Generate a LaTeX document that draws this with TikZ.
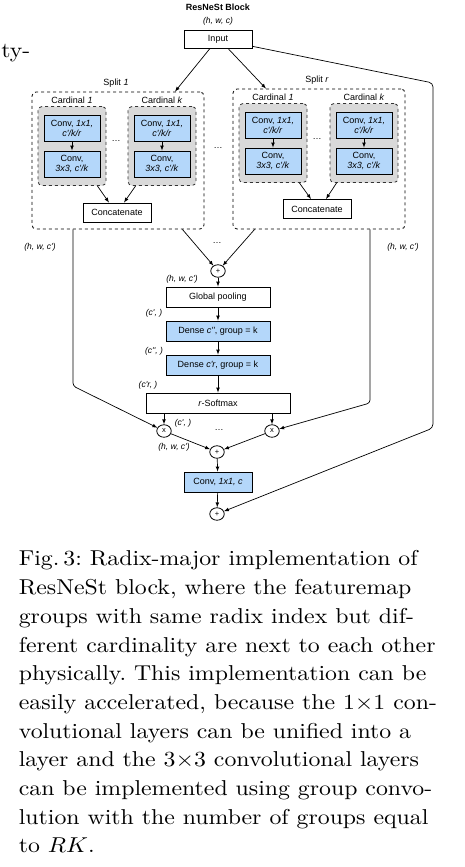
\documentclass[tikz,border=0pt]{standalone}
\usepackage{fontspec}
\newfontfamily\diagfont{Liberation Sans}
\usetikzlibrary{arrows, shapes.geometric}
\definecolor{convblue}{RGB}{180,215,250}
\definecolor{cardgray}{RGB}{217,217,217}
\newcommand{\capline}[1]{\hbox to\hsize{#1}}

\begin{document}
\begin{tikzpicture}[x=1pt, y=-1pt, >=latex, line width=0.7pt,
		font=\diagfont\fontsize{9}{10}\selectfont,
		box/.style={draw, line width=0.9pt, fill=white, minimum width=#1, minimum height=20, inner sep=0pt},
		box/.default=68,
		convbox/.style={box=56, minimum height=26, fill=convblue, align=center},
		densebox/.style={box=104, fill=convblue},
		cardbox/.style={draw=black!80, dashed, line width=0.8pt, fill=cardgray, rounded corners=4pt, minimum width=68, minimum height=79},
		splitbox/.style={draw, dashed, line width=0.8pt, rounded corners=4pt, minimum width=172},
		op/.style={draw, ellipse, line width=0.8pt, minimum width=14.5, minimum height=12.5, inner sep=0pt, font=\diagfont\fontsize{7.5}{7.5}\selectfont},
		shp/.style={font=\diagfont\itshape\fontsize{8.5}{9}\selectfont},
		capt/.style={inner sep=0pt, xscale=2.38, yscale=2.15, font=\rmfamily\fontsize{10}{13.35}\selectfont}]
		% Bildbereich
		\useasboundingbox (0,0) rectangle (464,867);
		% Rest der Nachbarspalte
		\node[capt, anchor=base west] (prev) at (0.5,57) {ty-};
		% Eingang
		\node[font=\diagfont\bfseries\fontsize{9}{9}\selectfont] (title) at (218,7) {ResNeSt Block};
		\node[shp] (shin) at (218,21) {(h, w, c)};
		\node[box, minimum height=18] (in) at (218,39) {Input};
		% Splits
		\node[splitbox, minimum height=137] (sp1) at (118,160.5) {};
		\node[splitbox, minimum height=140] (spr) at (319,159) {};
		\node (sp1lbl) at (116,83) {Split \textit{1}};
		\node (sprlbl) at (317,80) {Split \textit{r}};
		\draw[->] ([xshift=-8pt]in.south) -- ([xshift=57pt]sp1.north);
		\draw[->] ([xshift=10pt]in.south) -- ([xshift=-53pt]spr.north);
		% Kardinalgruppen
		\foreach \cg/\x/\y/\k in {g11/72/146/1, g1k/162/146/k, gr1/273/143/1, grk/364/143/k} {
			\node (\cg l) at (\x,\y-46) {Cardinal \textit{\k}};
			\node[cardbox] (\cg) at (\x,\y) {};
			\node[convbox] (\cg a) at (\x,\y-18) {Conv, \textit{1x1,}\\\textit{c'/k/r}};
			\node[convbox] (\cg b) at (\x,\y+18) {Conv,\\\textit{3x3, c'/k}};
			\draw[->] (\cg a) -- (\cg b);
		}
		\node[box, minimum height=19] (cat1) at (117,212.5) {Concatenate};
		\node[box, minimum height=19] (catr) at (317,209) {Concatenate};
		\draw[->] ([xshift=-9pt]g11.south east) -- ([xshift=-8pt]cat1.north);
		\draw[->] ([xshift=8pt]g1k.south west) -- ([xshift=7pt]cat1.north);
		\draw[->] ([xshift=-8pt]gr1.south east) -- ([xshift=-6pt]catr.north);
		\draw[->] ([xshift=7pt]grk.south west) -- ([xshift=9pt]catr.north);
		\node (dots1) at (116,141) {\dots};
		\node (dots2) at (317,139) {\dots};
		\node (dots3) at (218,148) {\dots};
		% Summe und Attention
		\node[op] (p1) at (218,271) {+};
		\draw[->] ([xshift=-22pt]sp1.south east) -- (p1);
		\draw[->] ([xshift=22pt]spr.south west) -- (p1);
		\node (dots4) at (217,243) {\dots};
		\node[shp] (shl) at (40,247) {(h, w, c')};
		\node[shp] (shr) at (403,247) {(h, w, c')};
		\node[shp] (shp1) at (182,279) {(h, w, c')};
		\node[box=104] (gp) at (218,297) {Global pooling};
		\node[densebox] (d1) at (218,331) {Dense \textit{c''}, group = k};
		\node[densebox] (d2) at (218,365) {Dense \textit{c'r}, group = k};
		\node[box=144] (sm) at (218,403) {\textit{r}-Softmax};
		\node[shp] (shgp) at (154,313) {(c', )};
		\node[shp] (shd1) at (154,351) {(c'', )};
		\node[shp] (shd2) at (148,385) {(c'r, )};
		\draw[->] (p1) -- (gp);
		\draw[->] (gp) -- (d1);
		\draw[->] (d1) -- (d2);
		\draw[->] (d2) -- (sm);
		% Gewichtung
		\node[op] (xl) at (164,431) {x};
		\node[op] (xr) at (272,431) {x};
		\draw[->] (sm.south -| xl) -- (xl);
		\draw[->] (sm.south -| xr) -- (xr);
		\node[shp] (shx) at (183,423) {(c', )};
		\node (dots5) at (219,430) {\dots};
		\node[op] (p2) at (217,452) {+};
		\node[shp] (shp2) at (174,447) {(h, w, c')};
		\draw[->] (xl) -- (p2);
		\draw[->] (xr) -- (p2);
		\node[box, fill=convblue] (cv) at (218,482) {Conv, \textit{1x1, c}};
		\node[op] (pf) at (217,514) {+};
		\draw[->] (p2) -- (cv);
		\draw[->] (cv) -- (pf);
		% Zweige und Skip
		\coordinate (lbend) at (73,386);
		\coordinate (rbend) at (370,403);
		\coordinate (skipa) at (433,83);
		\coordinate (skipb) at (433,428);
		\draw[->, rounded corners=3pt] (sp1.south -| lbend) -- (lbend) -- (xl);
		\draw[->, rounded corners=3pt] (spr.south -| rbend) -- (rbend) -- (xr);
		\draw[->, rounded corners=4pt] (in.-12) -- (skipa) -- (skipb) -- (pf);
		% Bildunterschrift
		\node[capt, anchor=north west, text width=174pt] (cap) at (18,550) {\frenchspacing
			\capline{Fig.\,3: Radix-major implementation of}
			\capline{ResNeSt block, where the featuremap}
			\capline{groups with same radix index but dif-}
			\capline{ferent cardinality are next to each other}
			\capline{physically. This implementation can be}
			\capline{easily accelerated, because the $1{\times}1$ con-}
			\capline{volutional layers can be unified into a}
			\capline{layer and the $3{\times}3$ convolutional layers}
			\capline{can be implemented using group convo-}
			\capline{lution with the number of groups equal}
			\noindent to $RK$.};
	\end{tikzpicture}
\end{document}
